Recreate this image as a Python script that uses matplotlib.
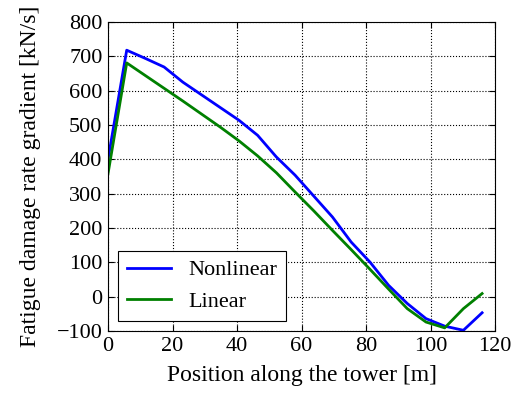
import numpy as np
import matplotlib
matplotlib.use('Agg')
import matplotlib.pyplot as plt

# positions along the tower [m]
position = [0, 5.8, 11.6, 17.4, 23.2, 29.0, 34.8, 40.6, 46.4, 52.2, 58.0,
            63.8, 69.6, 75.4, 81.2, 87.0, 92.8, 98.6, 104.4, 110.2, 116.0]
nonlinear = [400, 718, 694, 669, 625, 588, 551, 514, 470, 407, 354,
             293, 232, 159, 101, 33, -20, -64, -86, -98, -47]
linear = [358, 681, 644, 607, 570, 532, 494, 454, 410, 361, 305,
          250, 193, 137, 80, 22, -35, -74, -91, -35, 9]

plt.rcParams['font.family'] = 'serif'
plt.rcParams['font.serif'] = ['Liberation Serif', 'DejaVu Serif']
plt.rcParams['axes.unicode_minus'] = True
plt.rcParams['xtick.direction'] = 'in'
plt.rcParams['ytick.direction'] = 'in'
plt.rcParams['xtick.top'] = True
plt.rcParams['ytick.right'] = True

fig = plt.figure(figsize=(5.18, 3.94), dpi=100)
ax = fig.add_axes([0.2085, 0.16, 0.9556 - 0.2085, 0.944 - 0.16])

ax.plot(position, nonlinear, color='b', lw=2, label='Nonlinear')
ax.plot(position, linear, color='g', lw=2, label='Linear')

ax.set_xlim(0, 120)
ax.set_ylim(-100, 800)
ax.set_xticks(np.arange(0, 121, 20))
ax.set_yticks(np.arange(-100, 801, 100))
ax.tick_params(labelsize=16, length=4, width=0.8)
ax.tick_params(axis='x', pad=4)
ax.tick_params(axis='y', pad=4)
ax.grid(True, color='k', linestyle=':', linewidth=0.8)

ax.set_xlabel('Position along the tower [m]', fontsize=17, labelpad=7)
ax.set_ylabel('Fatigue damage rate gradient [kN/s]', fontsize=17, labelpad=11)

leg = ax.legend(loc='lower left', fontsize=16, fancybox=False, framealpha=1,
                edgecolor='k', handlelength=2.0, borderaxespad=0.45,
                labelspacing=0.5, handletextpad=0.75)
leg.get_frame().set_linewidth(0.8)

fig.savefig('out.png', dpi=100)
